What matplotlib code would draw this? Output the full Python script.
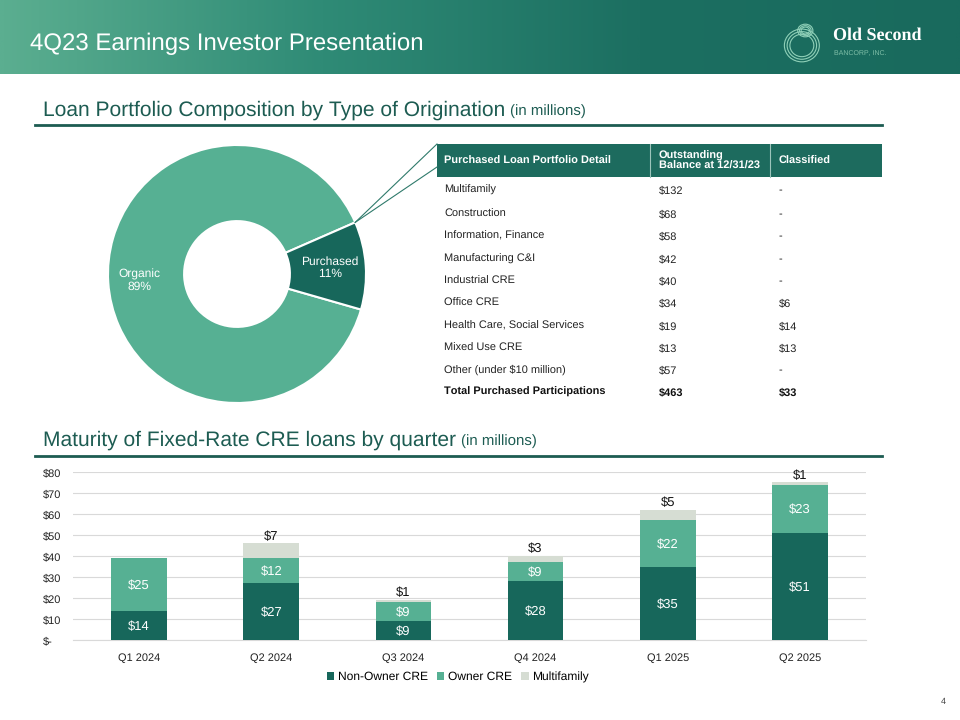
import numpy as np
import matplotlib
matplotlib.use("Agg")
import matplotlib.pyplot as plt
from matplotlib.colors import LinearSegmentedColormap
from matplotlib.patches import Rectangle, Ellipse
from matplotlib.lines import Line2D

plt.rcParams['font.family'] = ['Liberation Sans', 'DejaVu Sans']
plt.rcParams['text.hinting'] = 'no_hinting'
plt.rcParams['text.hinting_factor'] = 1

# Donut data
donut_labels = ["Organic", "Purchased"]
donut_share = [89, 11]

# Table data
table_head = ["Purchased Loan Portfolio Detail", "Outstanding\nBalance at 12/31/23", "Classified"]
table_rows = ["Multifamily", "Construction", "Information, Finance", "Manufacturing C&I",
              "Industrial CRE", "Office CRE", "Health Care, Social Services", "Mixed Use CRE",
              "Other (under $10 million)"]
table_balance = ["$132", "$68", "$58", "$42", "$40", "$34", "$19", "$13", "$57"]
table_classified = ["-", "-", "-", "-", "-", "$6", "$14", "$13", "-"]
table_total = ["Total Purchased Participations", "$463", "$33"]

# Bar data
quarters = ["Q1 2024", "Q2 2024", "Q3 2024", "Q4 2024", "Q1 2025", "Q2 2025"]
non_owner = [14, 27, 9, 28, 35, 51]
owner = [25, 12, 9, 9, 22, 23]
multifamily = [0, 7, 1, 3, 5, 1]
yticks = [0, 10, 20, 30, 40, 50, 60, 70, 80]

DARK = "#17675b"
MID = "#56b093"
LIGHT = "#d6ddd3"
TITLE_C = "#1d5c52"

W, H = 960, 720
fig = plt.figure(figsize=(9.6, 7.2), dpi=100)


def fx(x):
    return x / W


def fy(y):
    return 1 - y / H


def px_axes(x0, y0, x1, y1, **kw):
    return fig.add_axes([fx(x0), fy(y1), (x1 - x0) / W, (y1 - y0) / H], **kw)


# header band
hax = px_axes(0, 0, 960, 74)
grad = np.linspace(0, 1, 400).reshape(1, -1)
cmap = LinearSegmentedColormap.from_list("hdr", ["#5bae90", "#2f8b76", "#1c6f61", "#196a5d"])
hax.imshow(grad, aspect="auto", cmap=cmap, extent=[0, 1, 0, 1])
hax.axis("off")
fig.text(fx(30), fy(44), "4Q23 Earnings Investor Presentation", color="white",
         fontsize=17.5, va="center", ha="left")

# logo
lax = px_axes(780, 18, 826, 66)
lax.set_xlim(-1, 1)
lax.set_ylim(-1, 1)
lax.set_aspect("equal")
lax.axis("off")
for r in [0.95, 0.8, 0.65]:
    lax.add_patch(Ellipse((-0.05, -0.15), 1.6 * r, 1.5 * r, fill=False, ec="#8fd0b8", lw=0.8))
for r in [0.55, 0.42, 0.3]:
    lax.add_patch(Ellipse((0.1, 0.5), 1.2 * r, 1.0 * r, fill=False, ec="#8fd0b8", lw=0.8))
fig.text(fx(833), fy(36), "Old Second", color="white", fontsize=13, fontweight="bold",
         family=["Liberation Serif", "DejaVu Serif"], va="center")
fig.text(fx(834), fy(53), "BANCORP, INC.", color="#7fbfa8", fontsize=5, va="center")

# section titles
def section(y, title, ytitle):
    t = fig.text(fx(43), fy(ytitle), title, color=TITLE_C, fontsize=15, va="center")
    fig.canvas.draw()
    bb = t.get_window_extent()
    fig.text(bb.x1 / W + fx(5), fy(ytitle + 1), "(in millions)", color=TITLE_C,
             fontsize=11, va="center")
    fig.add_artist(Line2D([fx(35), fx(882)], [fy(y), fy(y)], color=TITLE_C, lw=2))


section(125, "Loan Portfolio Composition by Type of Origination", 110)
section(456, "Maturity of Fixed-Rate CRE loans by quarter", 440)

# donut: purchased slice sits on the right, from about -16 to +24 degrees
dax = px_axes(108, 145, 366, 403)
wedges, _ = dax.pie(donut_share, colors=[MID, DARK], startangle=23.6,
                    counterclock=True, radius=1,
                    wedgeprops=dict(width=0.59, edgecolor="white", linewidth=1.5))
dax.set_xlim(-1, 1)
dax.set_ylim(-1, 1)
dax.set_aspect("equal")
dax.axis("off")
for w, lab, val in zip(wedges, donut_labels, donut_share):
    mid = np.deg2rad((w.theta1 + w.theta2) / 2)
    rr = 0.76 if lab == "Organic" else 0.72
    dax.text(rr * np.cos(mid), rr * np.sin(mid), f"{lab}\n{val}%", color="white",
             fontsize=8.5, ha="center", va="center", linespacing=1.1)

# leader lines from top edge of purchased slice to table header
pw = wedges[1]
ang = np.deg2rad(pw.theta2)
p = dax.transData.transform((np.cos(ang), np.sin(ang)))
p = fig.transFigure.inverted().transform(p)
for ty in [144, 167]:
    fig.add_artist(Line2D([p[0], fx(437)], [p[1], fy(ty)], color="#2f7a6b", lw=0.8))

# table
fig.add_artist(Rectangle((fx(437), fy(177)), fx(882) - fx(437), (177 - 144) / H,
                         transform=fig.transFigure, color="#1d6b5e", lw=0))
for xs in [650, 770]:
    fig.add_artist(Line2D([fx(xs), fx(xs)], [fy(144), fy(177)], color="#9cc5bb", lw=0.8))
col_x = [444, 659, 779]
for cx, h in zip(col_x, table_head):
    fig.text(fx(cx), fy(161), h, color="white", fontsize=7.6, fontweight="bold",
             va="center", linespacing=1.0)
row_y = [189, 213, 235, 258, 280, 302, 325, 347, 369]
for ry, a, b, c in zip(row_y, table_rows, table_balance, table_classified):
    for cx, t in zip(col_x, [a, b, c]):
        fig.text(fx(cx), fy(ry), t, color="#222222", fontsize=7.8, va="center_baseline")
for cx, t in zip(col_x, table_total):
    fig.text(fx(cx), fy(391), t, color="#111111", fontsize=7.8, fontweight="bold",
             va="center_baseline")

# bar chart
bax = px_axes(73, 472, 866, 640)
x = np.arange(len(quarters))
bw = 0.42
b1 = bax.bar(x, non_owner, bw, color=DARK, label="Non-Owner CRE", zorder=3)
b2 = bax.bar(x, owner, bw, bottom=non_owner, color=MID, label="Owner CRE", zorder=3)
bot3 = np.array(non_owner) + np.array(owner)
b3 = bax.bar(x, multifamily, bw, bottom=bot3, color=LIGHT, label="Multifamily", zorder=3)
bax.set_xlim(-0.5, len(quarters) - 0.5)
bax.set_ylim(0, 80)
bax.set_yticks(yticks)
bax.set_yticklabels([])
for v in yticks:
    lab = "$-" if v == 0 else f"${v}"
    bax.text((43 - 73) / (866 - 73), v, lab, transform=bax.get_yaxis_transform(),
             fontsize=8, va="center_baseline", ha="left", color="#222222")
bax.yaxis.grid(True, color="#d9d9d9", lw=0.8, zorder=0)
bax.set_xticks(x)
bax.set_xticklabels(quarters, fontsize=8.2, color="#222222")
bax.tick_params(length=0, pad=9)
for s in ["top", "right", "left"]:
    bax.spines[s].set_visible(False)
bax.spines["bottom"].set_color("#d9d9d9")

for i in range(len(quarters)):
    bax.text(x[i], non_owner[i] / 2, f"${non_owner[i]}", color="white", fontsize=9,
             ha="center", va="center_baseline", zorder=4)
    bax.text(x[i], non_owner[i] + owner[i] / 2, f"${owner[i]}", color="white", fontsize=9,
             ha="center", va="center_baseline", zorder=4)
    if multifamily[i] > 0:
        top = bot3[i] + multifamily[i]
        bax.annotate(f"${multifamily[i]}", (x[i], top), xytext=(0, 6),
                     textcoords="offset points", ha="center", va="center_baseline",
                     fontsize=9, color="#111111", zorder=4)

fig.legend(handles=[b1, b2, b3], loc="center", bbox_to_anchor=(fx(458), fy(677)),
           ncol=3, frameon=False, fontsize=8.5, handlelength=0.6, handleheight=0.6,
           handletextpad=0.3, columnspacing=0.8)

fig.text(fx(943), fy(702), "4", fontsize=6.5, color="#444444", ha="center", va="center")

fig.savefig("out.png", dpi=100)
